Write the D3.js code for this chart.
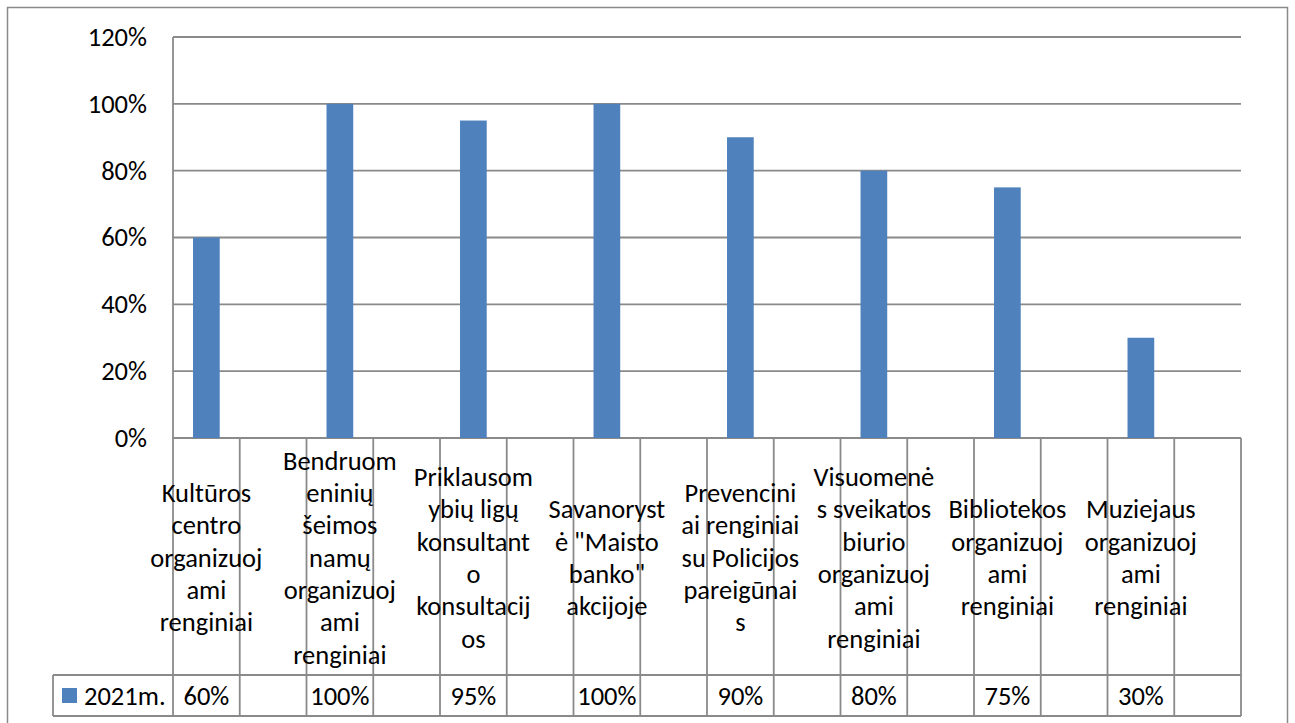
<!DOCTYPE html>
<html>
<head>
<meta charset="utf-8">
<style>
  body { margin: 0; background: #fff; font-family: Carlito, Lato, sans-serif; }
  svg text { fill: #000; }
</style>
</head>
<body>
<svg width="1295" height="723"></svg>
<script src="https://d3js.org/d3.v7.min.js"></script>
<script>
// chart data
var categories = [
  "Kultūros\ncentro\norganizuoj\nami\nrenginiai",
  "Bendruom\neninių\nšeimos\nnamų\norganizuoj\nami\nrenginiai",
  "Priklausom\nybių ligų\nkonsultant\no\nkonsultacij\nos",
  "Savanoryst\nė \"Maisto\nbanko\"\nakcijoje",
  "Prevencini\nai renginiai\nsu Policijos\npareigūnai\ns",
  "Visuomenė\ns sveikatos\nbiurio\norganizuoj\nami\nrenginiai",
  "Bibliotekos\norganizuoj\nami\nrenginiai",
  "Muziejaus\norganizuoj\nami\nrenginiai"
];
var values2021 = [0.60, 1.00, 0.95, 1.00, 0.90, 0.80, 0.75, 0.30];
var seriesName = "2021m.";
var yTicks = [0, 0.2, 0.4, 0.6, 0.8, 1.0, 1.2];

var svg = d3.select("svg");
var fontSize = 26.5;
var lineColor = "#8a8a8a";

var plot = {left: 173, right: 1241, top: 37, bottom: 438};
var catRowBottom = 675, valRowBottom = 716, legendLeft = 53;

// every category is followed by an empty slot in the source sheet
var slots = d3.range(categories.length * 2);
var x = d3.scaleBand().domain(slots).range([plot.left, plot.right]);
var y = d3.scaleLinear().domain([0, 1.2]).range([plot.bottom, plot.top]);

// outer chart border
svg.append("rect")
  .attr("x", 7.5).attr("y", 7.5)
  .attr("width", 1280).attr("height", 760)
  .attr("fill", "none")
  .attr("stroke", lineColor)
  .attr("stroke-width", 1.5);

// gridlines
svg.append("g")
  .selectAll("line")
  .data(yTicks)
  .enter().append("line")
    .attr("x1", plot.left).attr("x2", plot.right)
    .attr("y1", function(d) { return y(d); })
    .attr("y2", function(d) { return y(d); })
    .attr("stroke", lineColor)
    .attr("stroke-width", 1.8);

// y axis labels
var yAxis = svg.append("g")
  .attr("transform", "translate(" + plot.left + ",0)")
  .call(d3.axisLeft(y).tickValues(yTicks).tickFormat(d3.format(".0%")).tickSize(0).tickPadding(26));
yAxis.select(".domain").remove();
yAxis.selectAll("text")
  .attr("font-family", "Carlito, Lato, sans-serif")
  .attr("font-size", fontSize)
  .attr("fill", "#000");

// bars
svg.append("g")
  .selectAll("rect")
  .data(values2021)
  .enter().append("rect")
    .attr("x", function(d, i) { return x(i * 2) + x.bandwidth() * 0.3; })
    .attr("y", function(d) { return y(d); })
    .attr("width", x.bandwidth() * 0.4)
    .attr("height", function(d) { return y(0) - y(d); })
    .attr("fill", "#4f81bd");

// data table lines
var grid = svg.append("g")
  .attr("stroke", lineColor)
  .attr("stroke-width", 1.8);

grid.selectAll("line.v")
  .data(slots.concat([slots.length]))
  .enter().append("line")
    .attr("x1", function(d) { return d < slots.length ? x(d) : plot.right; })
    .attr("x2", function(d) { return d < slots.length ? x(d) : plot.right; })
    .attr("y1", function(d) { return d === 0 ? plot.top : plot.bottom; })
    .attr("y2", valRowBottom);

grid.selectAll("line.h")
  .data([catRowBottom, valRowBottom])
  .enter().append("line")
    .attr("x1", legendLeft).attr("x2", plot.right)
    .attr("y1", function(d) { return d; })
    .attr("y2", function(d) { return d; });

grid.append("line")
  .attr("x1", legendLeft).attr("x2", legendLeft)
  .attr("y1", catRowBottom).attr("y2", valRowBottom);

// category labels
var lh = 32.3;
var catMid = (plot.bottom + catRowBottom) / 2 + 1;
var labels = svg.append("g")
  .attr("font-size", fontSize)
  .attr("text-anchor", "middle")
  .selectAll("text")
  .data(categories)
  .enter().append("text")
    .attr("x", function(d, i) { return x(i * 2) + x.bandwidth() / 2; });

labels.selectAll("tspan")
  .data(function(d) {
    var lines = d.split("\n");
    return lines.map(function(l, j) { return {t: l, j: j, n: lines.length}; });
  })
  .enter().append("tspan")
    .attr("x", function() { return d3.select(this.parentNode).attr("x"); })
    .attr("y", function(d) { return catMid + (d.j - (d.n - 1) / 2) * lh; })
    .attr("dy", "0.35em")
    .text(function(d) { return d.t; });

// value row
var valMid = (catRowBottom + valRowBottom) / 2;
svg.append("g")
  .attr("font-size", fontSize)
  .attr("text-anchor", "middle")
  .selectAll("text")
  .data(values2021)
  .enter().append("text")
    .attr("x", function(d, i) { return x(i * 2) + x.bandwidth() / 2; })
    .attr("y", valMid)
    .attr("dy", "0.35em")
    .text(d3.format(".0%"));

// legend key in table
svg.append("rect")
  .attr("x", 62).attr("y", valMid - 7.5)
  .attr("width", 15).attr("height", 15)
  .attr("fill", "#4f81bd");
svg.append("text")
  .attr("x", 84).attr("y", valMid)
  .attr("dy", "0.35em")
  .attr("font-size", fontSize)
  .text(seriesName);
</script>
</body>
</html>
